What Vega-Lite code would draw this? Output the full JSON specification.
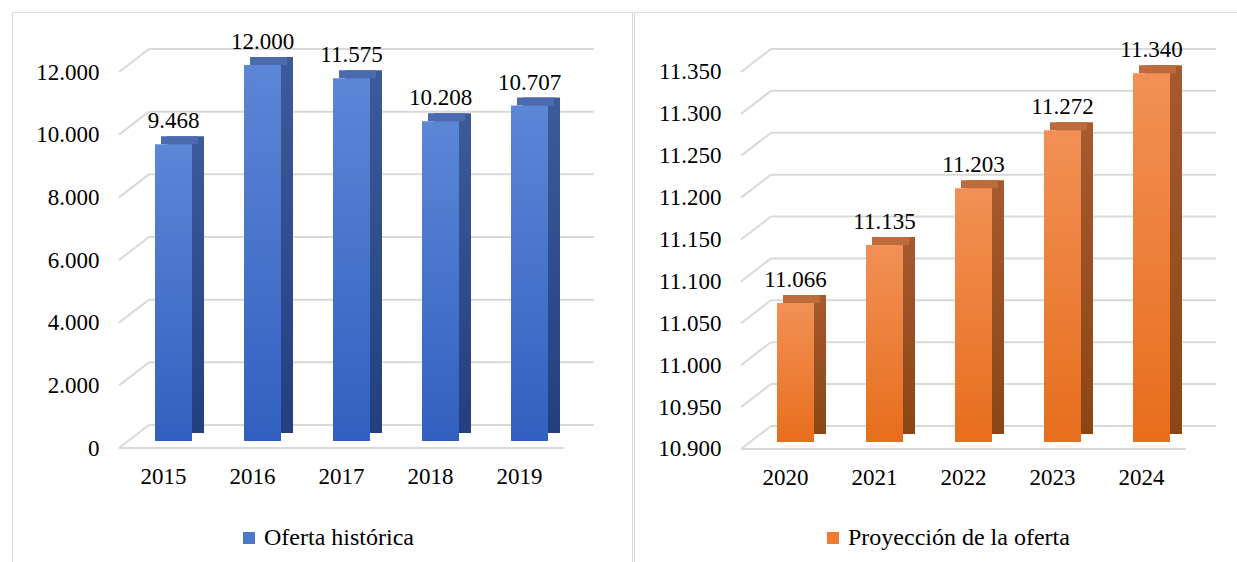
{
  "$schema": "https://vega.github.io/schema/vega-lite/v6.json",
  "padding": {"left": 11, "top": 11, "right": 0, "bottom": 0},
  "spacing": 0,
  "datasets": {
    "hist": [
      {"year": "2015", "v": 9468},
      {"year": "2016", "v": 12000},
      {"year": "2017", "v": 11575},
      {"year": "2018", "v": 10208},
      {"year": "2019", "v": 10707}
    ],
    "proj": [
      {"year": "2020", "v": 11066},
      {"year": "2021", "v": 11135},
      {"year": "2022", "v": 11203},
      {"year": "2023", "v": 11272},
      {"year": "2024", "v": 11340}
    ],
    "gridL": [{"g": 0}, {"g": 2000}, {"g": 4000}, {"g": 6000}, {"g": 8000}, {"g": 10000}, {"g": 12000}],
    "gridR": [{"g": 10900}, {"g": 10950}, {"g": 11000}, {"g": 11050}, {"g": 11100}, {"g": 11150}, {"g": 11200}, {"g": 11250}, {"g": 11300}, {"g": 11350}]
  },
  "resolve": {"scale": {"color": "independent", "x": "independent", "y": "independent"}, "legend": {"color": "independent"}},
  "hconcat": [
    {
      "width": 620,
      "height": 550,
      "layer": [
        {
          "data": {"name": "gridL"},
          "mark": {"type": "rule", "color": "#d9d9d9", "strokeWidth": 2, "xOffset": 30, "x2Offset": 30, "yOffset": -23},
          "encoding": {
            "y": {"field": "g", "type": "quantitative", "title": null,
                  "scale": {"domain": [-3638.3, 13914.9], "nice": false, "zero": false},
                  "axis": {"offset": -87, "labelPadding": 0, "domain": false, "ticks": false, "grid": false,
                           "labelFont": "Liberation Serif", "labelFontSize": 23, "labelColor": "#000000",
                           "values": [0, 2000, 4000, 6000, 8000, 10000, 12000], "format": ",d"}},
            "x": {"datum": "2015", "type": "nominal", "bandPosition": 0, "title": null,
                  "scale": {"domain": ["2015", "2016", "2017", "2018", "2019"], "paddingInner": 0, "paddingOuter": 0.98315, "align": 0.61143},
                  "axis": {"offset": -114, "labelPadding": 17, "domain": false, "ticks": false, "grid": false, "labelAngle": 0,
                           "labelFont": "Liberation Serif", "labelFontSize": 23, "labelColor": "#000000"}},
            "x2": {"datum": "2019", "bandPosition": 1}
          }
        },
        {
          "data": {"name": "gridL"},
          "mark": {"type": "rule", "color": "#d9d9d9", "strokeWidth": 2, "x2Offset": 30, "y2Offset": -23},
          "encoding": {
            "y": {"field": "g", "type": "quantitative", "title": null},
            "y2": {"field": "g"},
            "x": {"datum": "2015", "type": "nominal", "bandPosition": 0, "title": null},
            "x2": {"datum": "2015", "bandPosition": 0}
          }
        },
        {
          "data": {"values": [{"g": 0}]},
          "mark": {"type": "rule", "color": "#d9d9d9", "strokeWidth": 2},
          "encoding": {
            "y": {"field": "g", "type": "quantitative", "title": null},
            "x": {"datum": "2015", "type": "nominal", "bandPosition": 0, "title": null},
            "x2": {"datum": "2019", "bandPosition": 1}
          }
        },
        {
          "data": {"name": "hist"},
          "mark": {"type": "bar", "width": 37, "xOffset": 10, "yOffset": -7, "y2Offset": -7, "opacity": 0},
          "encoding": {
            "x": {"field": "year", "type": "nominal", "title": null},
            "y": {"field": "v", "type": "quantitative", "title": null},
            "y2": {"datum": 0},
            "color": {"datum": "Oferta histórica", "type": "nominal",
                      "scale": {"range": ["#4a78cc"]},
                      "legend": {"orient": "none", "legendX": 225, "legendY": 514, "title": null, "symbolOpacity": 1,
                                 "labelFont": "Liberation Serif", "labelFontSize": 24, "labelLimit": 0, "labelOffset": 3}}
          }
        },
        {
          "data": {"name": "hist"},
          "mark": {"type": "bar", "width": 12, "xOffset": 34.5, "yOffset": -15, "y2Offset": -15, "opacity": 0.35, "color": "#404040"},
          "encoding": {
            "x": {"field": "year", "type": "nominal", "title": null},
            "y": {"datum": 0},
            "y2": {"datum": 0}
          }
        },
        {
          "data": {"name": "hist"},
          "mark": {"type": "bar", "width": 37, "xOffset": 22, "yOffset": -15, "y2Offset": -15,
                   "color": {"gradient": "linear", "x1": 0, "y1": 0, "x2": 0, "y2": 1,
                             "stops": [{"offset": 0, "color": "#3d5a9a"}, {"offset": 1, "color": "#233f80"}]}},
          "encoding": {
            "x": {"field": "year", "type": "nominal", "title": null},
            "y": {"field": "v", "type": "quantitative", "title": null},
            "y2": {"datum": 0}
          }
        },
        {
          "data": {"name": "hist"},
          "mark": {"type": "bar", "width": 37, "xOffset": 16, "yOffset": -7, "y2Offset": -15, "color": "#4b6ab0"},
          "encoding": {
            "x": {"field": "year", "type": "nominal", "title": null},
            "y": {"field": "v", "type": "quantitative", "title": null},
            "y2": {"field": "v"}
          }
        },
        {
          "data": {"name": "hist"},
          "mark": {"type": "bar", "width": 37, "xOffset": 10, "yOffset": -7, "y2Offset": -7,
                   "color": {"gradient": "linear", "x1": 0, "y1": 0, "x2": 0, "y2": 1,
                             "stops": [{"offset": 0, "color": "#5c86d6"}, {"offset": 1, "color": "#3260c0"}]}},
          "encoding": {
            "x": {"field": "year", "type": "nominal", "title": null},
            "y": {"field": "v", "type": "quantitative", "title": null},
            "y2": {"datum": 0}
          }
        },
        {
          "data": {"name": "hist"},
          "mark": {"type": "text", "font": "Liberation Serif", "fontSize": 23, "color": "#000000", "baseline": "alphabetic", "xOffset": 10, "yOffset": -23},
          "encoding": {
            "x": {"field": "year", "type": "nominal", "title": null},
            "y": {"field": "v", "type": "quantitative", "title": null},
            "text": {"field": "v", "type": "quantitative", "format": ",d"}
          }
        }
      ]
    },
    {
      "width": 605,
      "height": 550,
      "layer": [
        {
          "data": {"name": "gridR"},
          "mark": {"type": "rule", "color": "#d9d9d9", "strokeWidth": 2, "xOffset": 30, "x2Offset": 30, "yOffset": -23},
          "encoding": {
            "y": {"field": "g", "type": "quantitative", "title": null,
                  "scale": {"domain": [10765.1, 11421.6], "nice": false, "zero": false},
                  "axis": {"offset": -87, "labelPadding": 0, "domain": false, "ticks": false, "grid": false,
                           "labelFont": "Liberation Serif", "labelFontSize": 23, "labelColor": "#000000",
                           "values": [10900, 10950, 11000, 11050, 11100, 11150, 11200, 11250, 11300, 11350], "format": ",d"}},
            "x": {"datum": "2020", "type": "nominal", "bandPosition": 0, "title": null,
                  "scale": {"domain": ["2020", "2021", "2022", "2023", "2024"], "paddingInner": 0, "paddingOuter": 0.8989, "align": 0.66875},
                  "axis": {"offset": -113, "labelPadding": 17, "domain": false, "ticks": false, "grid": false, "labelAngle": 0,
                           "labelFont": "Liberation Serif", "labelFontSize": 23, "labelColor": "#000000"}},
            "x2": {"datum": "2024", "bandPosition": 1}
          }
        },
        {
          "data": {"name": "gridR"},
          "mark": {"type": "rule", "color": "#d9d9d9", "strokeWidth": 2, "x2Offset": 30, "y2Offset": -23},
          "encoding": {
            "y": {"field": "g", "type": "quantitative", "title": null},
            "y2": {"field": "g"},
            "x": {"datum": "2020", "type": "nominal", "bandPosition": 0, "title": null},
            "x2": {"datum": "2020", "bandPosition": 0}
          }
        },
        {
          "data": {"values": [{"g": 10900}]},
          "mark": {"type": "rule", "color": "#d9d9d9", "strokeWidth": 2},
          "encoding": {
            "y": {"field": "g", "type": "quantitative", "title": null},
            "x": {"datum": "2020", "type": "nominal", "bandPosition": 0, "title": null},
            "x2": {"datum": "2024", "bandPosition": 1}
          }
        },
        {
          "data": {"name": "proj"},
          "mark": {"type": "bar", "width": 37, "xOffset": 10, "yOffset": -7, "y2Offset": -7, "opacity": 0},
          "encoding": {
            "x": {"field": "year", "type": "nominal", "title": null},
            "y": {"field": "v", "type": "quantitative", "title": null},
            "y2": {"datum": 10900},
            "color": {"datum": "Proyección de la oferta", "type": "nominal",
                      "scale": {"range": ["#ee7d33"]},
                      "legend": {"orient": "none", "legendX": 187, "legendY": 514, "title": null, "symbolOpacity": 1,
                                 "labelFont": "Liberation Serif", "labelFontSize": 24, "labelLimit": 0, "labelOffset": 3}}
          }
        },
        {
          "data": {"name": "proj"},
          "mark": {"type": "bar", "width": 12, "xOffset": 34.5, "yOffset": -15, "y2Offset": -15, "opacity": 0.35, "color": "#404040"},
          "encoding": {
            "x": {"field": "year", "type": "nominal", "title": null},
            "y": {"datum": 10900},
            "y2": {"datum": 10900}
          }
        },
        {
          "data": {"name": "proj"},
          "mark": {"type": "bar", "width": 37, "xOffset": 22, "yOffset": -15, "y2Offset": -15,
                   "color": {"gradient": "linear", "x1": 0, "y1": 0, "x2": 0, "y2": 1,
                             "stops": [{"offset": 0, "color": "#a65a2e"}, {"offset": 1, "color": "#8c4515"}]}},
          "encoding": {
            "x": {"field": "year", "type": "nominal", "title": null},
            "y": {"field": "v", "type": "quantitative", "title": null},
            "y2": {"datum": 10900}
          }
        },
        {
          "data": {"name": "proj"},
          "mark": {"type": "bar", "width": 37, "xOffset": 16, "yOffset": -7, "y2Offset": -15, "color": "#bd6b3b"},
          "encoding": {
            "x": {"field": "year", "type": "nominal", "title": null},
            "y": {"field": "v", "type": "quantitative", "title": null},
            "y2": {"field": "v"}
          }
        },
        {
          "data": {"name": "proj"},
          "mark": {"type": "bar", "width": 37, "xOffset": 10, "yOffset": -7, "y2Offset": -7,
                   "color": {"gradient": "linear", "x1": 0, "y1": 0, "x2": 0, "y2": 1,
                             "stops": [{"offset": 0, "color": "#f29056"}, {"offset": 1, "color": "#e76e1c"}]}},
          "encoding": {
            "x": {"field": "year", "type": "nominal", "title": null},
            "y": {"field": "v", "type": "quantitative", "title": null},
            "y2": {"datum": 10900}
          }
        },
        {
          "data": {"name": "proj"},
          "mark": {"type": "text", "font": "Liberation Serif", "fontSize": 23, "color": "#000000", "baseline": "alphabetic", "xOffset": 10, "yOffset": -23},
          "encoding": {
            "x": {"field": "year", "type": "nominal", "title": null},
            "y": {"field": "v", "type": "quantitative", "title": null},
            "text": {"field": "v", "type": "quantitative", "format": ",d"}
          }
        }
      ]
    }
  ],
  "config": {
    "view": {"stroke": "#d9d9d9", "strokeWidth": 1},
    "font": "Liberation Serif",
    "axis": {"labelFont": "Liberation Serif", "labelFontSize": 23, "labelColor": "#000000"},
    "text": {"font": "Liberation Serif"},
    "legend": {"labelFont": "Liberation Serif", "labelFontSize": 24, "labelColor": "#000000", "symbolType": "square", "symbolSize": 144, "symbolStrokeWidth": 0, "labelOffset": 3, "padding": 0, "labelLimit": 0},
    "locale": {"number": {"decimal": ",", "thousands": ".", "grouping": [3], "currency": ["$", ""]}}
  }
}
